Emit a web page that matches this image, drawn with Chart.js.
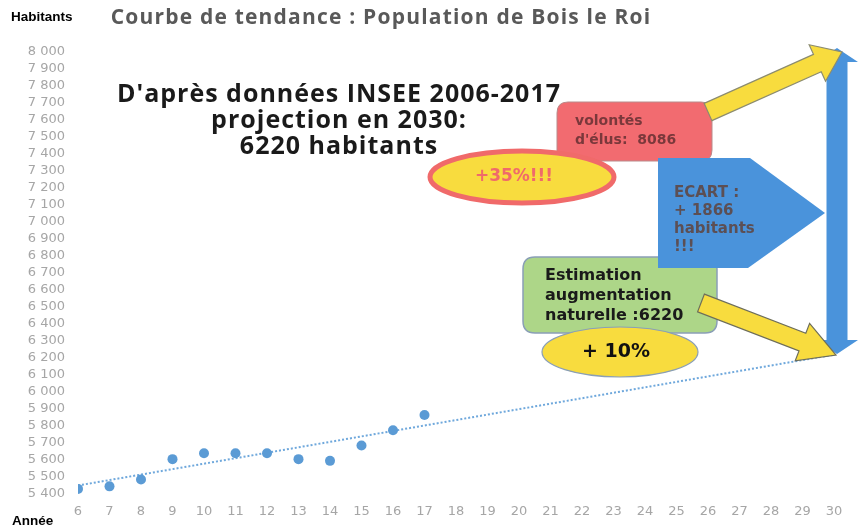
<!DOCTYPE html>
<html>
<head>
<meta charset="utf-8">
<title>Population de Bois le Roi</title>
<script src="https://cdn.jsdelivr.net/npm/chart.js"></script>
<style>
  html, body { margin: 0; padding: 0; background: #fff; }
  canvas { display: block; }
</style>
</head>
<body>
<canvas id="myChart" width="863" height="526"></canvas>
<script>
// années INSEE (6 = 2006 ... 17 = 2017) et population
const years = [6, 7, 8, 9, 10, 11, 12, 13, 14, 15, 16, 17];
const population = [5430, 5445, 5485, 5605, 5640, 5640, 5640, 5605, 5595, 5685, 5775, 5865];

// courbe de tendance jusqu'en 2030
const trendYears = [6, 30];
const trendValues = [5450, 6220];

const yMin = 5400, yMax = 8000, yStep = 100;
const xMin = 6, xMax = 30;

const tickColor = '#a6a6a6';
const blue = '#4a93db';
const yellow = '#f8dc3e';

function fmt(v) {
    return String(v).replace(/\B(?=(\d{3})+(?!\d))/g, ' ');
}

function roundRect(ctx, x, y, w, h, r) {
    ctx.beginPath();
    ctx.moveTo(x + r, y);
    ctx.lineTo(x + w - r, y);
    ctx.quadraticCurveTo(x + w, y, x + w, y + r);
    ctx.lineTo(x + w, y + h - r);
    ctx.quadraticCurveTo(x + w, y + h, x + w - r, y + h);
    ctx.lineTo(x + r, y + h);
    ctx.quadraticCurveTo(x, y + h, x, y + h - r);
    ctx.lineTo(x, y + r);
    ctx.quadraticCurveTo(x, y, x + r, y);
    ctx.closePath();
}

function arrow(ctx, x1, y1, x2, y2, shaft, headW, headL, fill, stroke) {
    const a = Math.atan2(y2 - y1, x2 - x1);
    const len = Math.hypot(x2 - x1, y2 - y1);
    ctx.save();
    ctx.translate(x1, y1);
    ctx.rotate(a);
    ctx.beginPath();
    ctx.moveTo(0, -shaft / 2);
    ctx.lineTo(len - headL, -shaft / 2);
    ctx.lineTo(len - headL, -headW / 2);
    ctx.lineTo(len, 0);
    ctx.lineTo(len - headL, headW / 2);
    ctx.lineTo(len - headL, shaft / 2);
    ctx.lineTo(0, shaft / 2);
    ctx.closePath();
    ctx.fillStyle = fill;
    ctx.fill();
    if (stroke) {
        ctx.strokeStyle = stroke;
        ctx.lineWidth = 1.2;
        ctx.stroke();
    }
    ctx.restore();
}

function doubleArrow(ctx, x, yTop, yBot, shaft, headW, headL, fill) {
    ctx.beginPath();
    ctx.moveTo(x, yTop);
    ctx.lineTo(x + headW / 2, yTop + headL);
    ctx.lineTo(x + shaft / 2, yTop + headL);
    ctx.lineTo(x + shaft / 2, yBot - headL);
    ctx.lineTo(x + headW / 2, yBot - headL);
    ctx.lineTo(x, yBot);
    ctx.lineTo(x - headW / 2, yBot - headL);
    ctx.lineTo(x - shaft / 2, yBot - headL);
    ctx.lineTo(x - shaft / 2, yTop + headL);
    ctx.lineTo(x - headW / 2, yTop + headL);
    ctx.closePath();
    ctx.fillStyle = fill;
    ctx.fill();
}

function lines(ctx, arr, x, y, step) {
    arr.forEach((t, i) => ctx.fillText(t, x, y + i * step));
}

const notes = {
    id: 'notes',
    afterDraw(chart) {
        const ctx = chart.ctx;
        ctx.save();

        // titres
        ctx.textBaseline = 'middle';
        ctx.fillStyle = '#000';
        ctx.font = 'bold 13.5px "Liberation Sans"';
        ctx.textAlign = 'left';
        ctx.fillText('Habitants', 11, 17);
        ctx.fillText('Année', 12, 521);

        ctx.fillStyle = '#595959';
        ctx.font = 'bold 21px "Open Sans"';
        ctx.letterSpacing = '1.2px';
        ctx.textAlign = 'center';
        ctx.fillText('Courbe de tendance : Population de Bois le Roi', 381, 18);

        ctx.fillStyle = '#1a1a1a';
        ctx.font = 'bold 25px "Open Sans"';
        ctx.letterSpacing = '1px';
        lines(ctx, ["D'après données INSEE 2006-2017", 'projection en 2030:', '6220 habitants'], 339, 95, 26);
        ctx.letterSpacing = '0px';

        // flèche bleue verticale
        doubleArrow(ctx, 837, 48, 354, 21, 42, 14, blue);

        // rectangle rouge
        roundRect(ctx, 557, 102, 155, 59, 11);
        ctx.fillStyle = '#f26b70';
        ctx.fill();
        ctx.strokeStyle = '#b98a8a';
        ctx.lineWidth = 1;
        ctx.stroke();

        arrow(ctx, 708, 112, 842, 52, 19, 40, 27, yellow, '#8c8c70');

        // ellipse +35%
        ctx.beginPath();
        ctx.ellipse(522, 177, 92, 26, 0, 0, Math.PI * 2);
        ctx.fillStyle = yellow;
        ctx.fill();
        ctx.strokeStyle = '#f06a6a';
        ctx.lineWidth = 5;
        ctx.stroke();

        // rectangle vert
        roundRect(ctx, 523, 257, 194, 76, 12);
        ctx.fillStyle = '#add688';
        ctx.fill();
        ctx.strokeStyle = '#8a9fb6';
        ctx.lineWidth = 1.5;
        ctx.stroke();

        // pentagone bleu
        ctx.beginPath();
        ctx.moveTo(658, 158);
        ctx.lineTo(750, 158);
        ctx.lineTo(825, 213);
        ctx.lineTo(748, 268);
        ctx.lineTo(658, 268);
        ctx.closePath();
        ctx.fillStyle = blue;
        ctx.fill();

        // ellipse +10%
        ctx.beginPath();
        ctx.ellipse(620, 352, 78, 25, 0, 0, Math.PI * 2);
        ctx.fillStyle = yellow;
        ctx.fill();
        ctx.strokeStyle = '#8a9fb6';
        ctx.lineWidth = 1.2;
        ctx.stroke();

        arrow(ctx, 701, 303, 836, 355, 19, 40, 36, yellow, '#6e6e5a');

        // textes des encadrés
        ctx.textAlign = 'left';
        ctx.font = 'bold 14px "DejaVu Sans"';
        ctx.fillStyle = '#7a383b';
        lines(ctx, ['volontés', "d'élus:  8086"], 575, 121, 19);

        ctx.font = 'bold 15px "DejaVu Sans"';
        ctx.fillStyle = '#5c4f54';
        lines(ctx, ['ECART :', '+ 1866', 'habitants', '!!!'], 674, 193, 18);

        ctx.font = 'bold 16px "DejaVu Sans"';
        ctx.fillStyle = '#1a1a1a';
        lines(ctx, ['Estimation', 'augmentation', 'naturelle :6220'], 545, 276, 20);

        ctx.textAlign = 'center';
        ctx.font = 'bold 17px "DejaVu Sans"';
        ctx.fillStyle = '#f06a6a';
        ctx.fillText('+35%!!!', 514, 177);

        ctx.font = 'bold 19px "DejaVu Sans"';
        ctx.fillStyle = '#111';
        ctx.fillText('+ 10%', 616, 352);

        ctx.restore();
    }
};

const ctx = document.getElementById('myChart').getContext('2d');
const myChart = new Chart(ctx, {
    type: 'scatter',
    data: {
        datasets: [{
            label: 'Population',
            data: years.map((x, i) => ({ x: x, y: population[i] })),
            backgroundColor: '#5b9bd5',
            borderWidth: 0,
            pointRadius: 5
        }, {
            label: 'Tendance',
            type: 'line',
            data: trendYears.map((x, i) => ({ x: x, y: trendValues[i] })),
            borderColor: '#6fa8dc',
            borderWidth: 2,
            borderDash: [2, 2],
            pointRadius: 0,
            fill: false
        }]
    },
    options: {
        responsive: false,
        animation: false,
        layout: { padding: { left: 0, top: 52, right: 29, bottom: 0 } },
        plugins: {
            legend: { display: false },
            tooltip: { enabled: false }
        },
        scales: {
            x: {
                type: 'linear',
                min: xMin,
                max: xMax,
                grid: { display: false, drawTicks: false },
                border: { display: false },
                ticks: {
                    stepSize: 1,
                    autoSkip: false,
                    maxRotation: 0,
                    padding: 10,
                    color: tickColor,
                    font: { family: 'DejaVu Sans', size: 13 }
                },
                afterFit(s) { s.height = 32; }
            },
            y: {
                min: yMin,
                max: yMax,
                grid: { display: false, drawTicks: false },
                border: { display: false },
                ticks: {
                    stepSize: yStep,
                    autoSkip: false,
                    padding: 13,
                    color: tickColor,
                    font: { family: 'DejaVu Sans', size: 13 },
                    callback: v => fmt(v)
                },
                afterFit(s) { s.width = 78; }
            }
        }
    },
    plugins: [notes]
});
</script>
</body>
</html>
